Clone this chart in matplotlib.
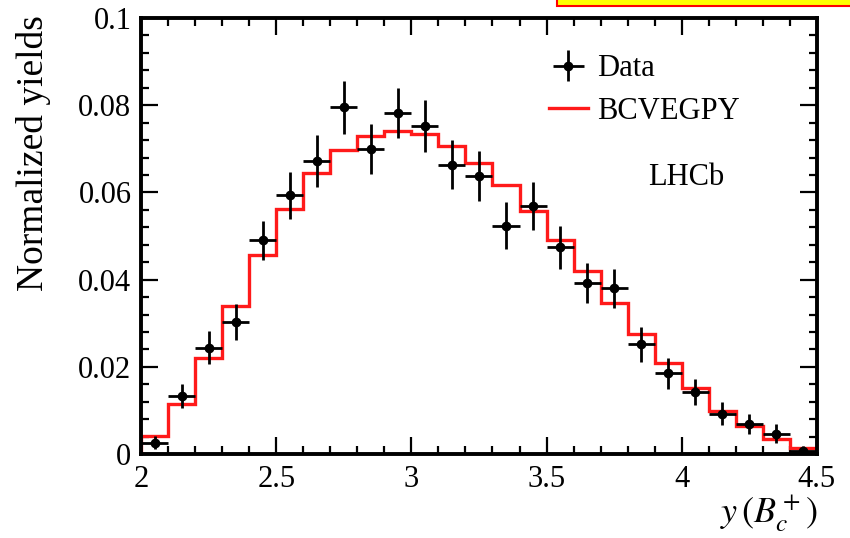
import numpy as np
import matplotlib
matplotlib.use('Agg')
import matplotlib.pyplot as plt
from matplotlib.patches import Rectangle

# bins in y(Bc+), width 0.1
bin_edges = [2.0, 2.1, 2.2, 2.3, 2.4, 2.5, 2.6, 2.7, 2.8, 2.9, 3.0, 3.1, 3.2,
             3.3, 3.4, 3.5, 3.6, 3.7, 3.8, 3.9, 4.0, 4.1, 4.2, 4.3, 4.4, 4.5]

# data points
data_y = [0.0026, 0.0133, 0.0244, 0.0303, 0.0490, 0.0593, 0.0672, 0.0795,
          0.0700, 0.0783, 0.0752, 0.0664, 0.0637, 0.0524, 0.0568, 0.0474,
          0.0392, 0.0380, 0.0252, 0.0185, 0.0143, 0.0093, 0.0070, 0.0047,
          0.0007]
data_err = [0.0015, 0.0027, 0.0038, 0.0041, 0.0045, 0.0053, 0.0059, 0.0060,
            0.0058, 0.0057, 0.0060, 0.0057, 0.0057, 0.0054, 0.0055, 0.0050,
            0.0046, 0.0045, 0.0040, 0.0036, 0.0030, 0.0027, 0.0023, 0.0021,
            0.0012]

# BCVEGPY simulation histogram
mc_y = [0.0041, 0.0114, 0.0220, 0.0340, 0.0457, 0.0563, 0.0644, 0.0697,
        0.0729, 0.0741, 0.0735, 0.0707, 0.0668, 0.0618, 0.0557, 0.0490,
        0.0419, 0.0346, 0.0275, 0.0210, 0.0151, 0.0099, 0.0064, 0.0034,
        0.0013]

edges = np.array(bin_edges)
centers = (edges[:-1] + edges[1:]) / 2
half_w = (edges[1:] - edges[:-1]) / 2

plt.rcParams['font.family'] = ['Liberation Serif', 'DejaVu Serif']
plt.rcParams['mathtext.fontset'] = 'stix'

fig = plt.figure(figsize=(8.5, 5.38), dpi=100)
ax = fig.add_axes([0.166, 0.156, 0.795, 0.8105])

ax.stairs(mc_y, edges, color='#ff1a1a', lw=2.4, label='BCVEGPY', zorder=2)
ax.errorbar(centers, data_y, yerr=data_err, xerr=half_w, fmt='o', color='black',
            ms=6, elinewidth=2, capsize=0, label='Data', zorder=3)

ax.set_xlim(2, 4.5)
ax.set_ylim(0, 0.1)
ax.set_xticks([2, 2.5, 3, 3.5, 4, 4.5])
ax.set_xticklabels(['2', '2.5', '3', '3.5', '4', '4.5'])
ax.set_xticks(np.arange(2, 4.51, 0.1), minor=True)
ax.set_yticks([0, 0.02, 0.04, 0.06, 0.08, 0.1])
ax.set_yticklabels(['0', '0.02', '0.04', '0.06', '0.08', '0.1'])
ax.set_yticks(np.arange(0, 0.1001, 0.004), minor=True)
ax.tick_params(which='both', direction='in', top=True, right=True, width=1.6,
               labelsize=22)
ax.tick_params(which='major', length=12)
ax.tick_params(which='minor', length=6)
ax.tick_params(axis='x', pad=8)
ax.tick_params(axis='y', pad=7)
for s in ax.spines.values():
    s.set_linewidth(2.8)

handles, labels = ax.get_legend_handles_labels()
ax.legend(handles[::-1], labels[::-1], loc='upper left', bbox_to_anchor=(0.585, 0.945),
          frameon=False, fontsize=22, handlelength=1.3, handletextpad=0.3,
          labelspacing=0.45, borderaxespad=0)

ax.text(0.806, 0.635, 'LHCb', transform=ax.transAxes, fontsize=22, ha='center',
        va='center')

fig.text(0.039, 0.972, 'Normalized yields', rotation=90, ha='center', va='top',
         fontsize=27)
fig.text(0.962, 0.005, r'$y\,(B_c^+)$', ha='right', va='bottom', fontsize=26)

# cropped yellow box at top edge
fig.patches.append(Rectangle((0.655, 0.989), 0.36, 0.05, transform=fig.transFigure,
                             facecolor='#ffff00', edgecolor='red', lw=1.5))

fig.savefig('out.png', dpi=100)
